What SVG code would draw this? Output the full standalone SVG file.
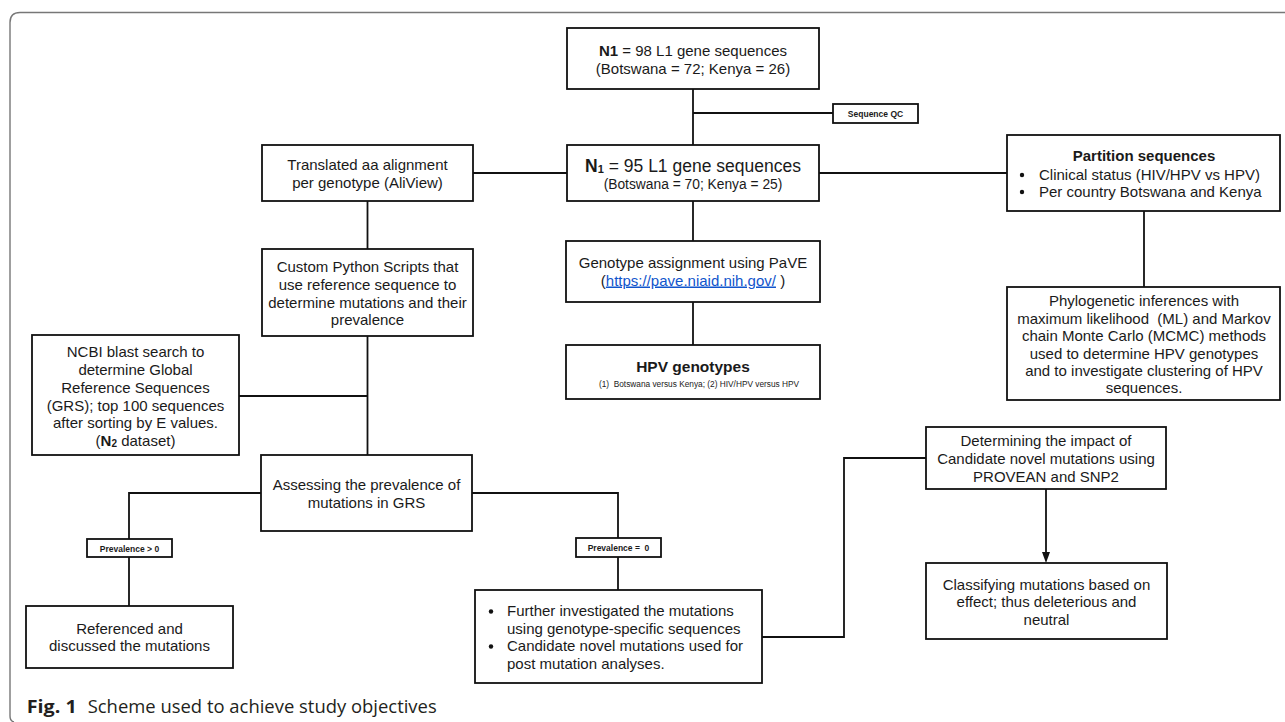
<svg xmlns="http://www.w3.org/2000/svg" width="1285" height="722" viewBox="0 0 1285 722">
<style>
.box{fill:#fff;stroke:#111;stroke-width:1.8}
.conn{fill:none;stroke:#111;stroke-width:1.8}
.t{font-family:"Liberation Sans",Arial,sans-serif;font-size:15px;fill:#1a1a1a;text-anchor:middle}
.l{text-anchor:start}
.b{font-weight:bold}
.tag{font-family:"Liberation Sans",Arial,sans-serif;font-size:8.5px;font-weight:bold;fill:#1a1a1a;text-anchor:middle}
.cap{font-family:"Open Sans","Noto Sans",sans-serif;font-size:18px;fill:#231f20}
.dot{fill:#111}
</style>
<defs>
<marker id="arr" markerWidth="11" markerHeight="8" refX="0" refY="4" orient="auto" markerUnits="userSpaceOnUse" viewBox="0 0 11 8">
<path d="M0,0 L11,4 L0,8 Z" fill="#111"/>
</marker>
</defs>
<rect width="1285" height="722" fill="#fff"/>
<path d="M1285,12.5 H20 Q10,12.5 10,22.5 V716 Q10,721 14,722" fill="none" stroke="#777" stroke-width="1.4"/>

<g id="connectors">
<path class="conn" d="M693,89 V145"/>
<path class="conn" d="M693,113 H833"/>
<path class="conn" d="M473,173 H567"/>
<path class="conn" d="M819,173 H1007"/>
<path class="conn" d="M693,201 V241"/>
<path class="conn" d="M693,302 V345"/>
<path class="conn" d="M1144,211 V287"/>
<path class="conn" d="M367.5,201 V249"/>
<path class="conn" d="M367.5,336 V455"/>
<path class="conn" d="M239,396 H367.5"/>
<path class="conn" d="M261,493 H129 V539"/>
<path class="conn" d="M129,557 V606"/>
<path class="conn" d="M472,493 H618 V538"/>
<path class="conn" d="M618,557 V590"/>
<path class="conn" d="M762,637 H844 V458 H926"/>
<path class="conn" d="M1046,489 V552" marker-end="url(#arr)"/>
</g>

<g id="n1">
<rect class="box" x="567" y="28" width="252" height="61"/>
<text class="t" x="693" y="56"><tspan class="b">N1</tspan> = 98 L1 gene sequences</text>
<text class="t" x="693" y="74">(Botswana = 72; Kenya = 26)</text>
</g>

<g id="seqqc">
<rect class="box" x="833" y="104" width="85" height="19"/>
<text class="tag" x="875.5" y="116.5">Sequence QC</text>
</g>

<g id="n1b">
<rect class="box" x="567" y="145" width="252" height="56"/>
<text class="t" x="693" y="172" style="font-size:17.5px"><tspan class="b">N</tspan><tspan class="b" style="font-size:11px" dy="0.5">1</tspan><tspan dy="-0.5"> = 95 L1 gene sequences</tspan></text>
<text class="t" x="693" y="189" style="font-size:13.8px">(Botswana = 70; Kenya = 25)</text>
</g>

<g id="translated">
<rect class="box" x="262" y="145" width="211" height="56"/>
<text class="t" x="367.5" y="170">Translated aa alignment</text>
<text class="t" x="367.5" y="188">per genotype (AliView)</text>
</g>

<g id="custom">
<rect class="box" x="262" y="249" width="211" height="87"/>
<text class="t" x="367.5" y="272">Custom Python Scripts that</text>
<text class="t" x="367.5" y="290">use reference sequence to</text>
<text class="t" x="367.5" y="307.5">determine mutations and their</text>
<text class="t" x="367.5" y="325">prevalence</text>
</g>

<g id="partition">
<rect class="box" x="1007" y="135" width="273" height="76"/>
<text class="t b" x="1144" y="161">Partition sequences</text>
<circle class="dot" cx="1022" cy="175" r="2.2"/>
<text class="t l" x="1039" y="179.5">Clinical status (HIV/HPV vs HPV)</text>
<circle class="dot" cx="1022" cy="192" r="2.2"/>
<text class="t l" x="1039" y="196.5">Per country Botswana and Kenya</text>
</g>

<g id="phylo">
<rect class="box" x="1007" y="287" width="273" height="113"/>
<text class="t" x="1144" y="306">Phylogenetic inferences with</text>
<text class="t" x="1144" y="323.5" xml:space="preserve">maximum likelihood  (ML) and Markov</text>
<text class="t" x="1144" y="341">chain Monte Carlo (MCMC) methods</text>
<text class="t" x="1144" y="358.5">used to determine HPV genotypes</text>
<text class="t" x="1144" y="376">and to investigate clustering of HPV</text>
<text class="t" x="1144" y="393">sequences.</text>
</g>

<g id="genotype">
<rect class="box" x="566" y="241" width="254" height="61"/>
<text class="t" x="693" y="268">Genotype assignment using PaVE</text>
<text class="t" x="693" y="285.5">(<tspan fill="#1155cc" text-decoration="underline">https://pave.niaid.nih.gov/</tspan> )</text>
</g>

<g id="hpv">
<rect class="box" x="566" y="345" width="254" height="54"/>
<text class="t b" x="693" y="371.5" style="font-size:15.5px">HPV genotypes</text>
<text class="t" x="699" y="386.5" style="font-size:8.3px" xml:space="preserve">(1)  Botswana versus Kenya; (2) HIV/HPV versus HPV</text>
</g>

<g id="ncbi">
<rect class="box" x="32" y="335" width="207" height="120"/>
<text class="t" x="135.5" y="357">NCBI blast search to</text>
<text class="t" x="135.5" y="375">determine Global</text>
<text class="t" x="135.5" y="392.5">Reference Sequences</text>
<text class="t" x="135.5" y="410.5">(GRS); top 100 sequences</text>
<text class="t" x="135.5" y="428">after sorting by E values.</text>
<text class="t" x="135.5" y="446">(<tspan class="b">N</tspan><tspan class="b" style="font-size:10px" dy="0.5">2</tspan><tspan dy="-0.5"> dataset)</tspan></text>
</g>

<g id="assessing">
<rect class="box" x="261" y="455" width="211" height="76"/>
<text class="t" x="366.5" y="490">Assessing the prevalence of</text>
<text class="t" x="366.5" y="508">mutations in GRS</text>
</g>

<g id="prev-gt0">
<rect class="box" x="87" y="539" width="85" height="18"/>
<text class="tag" x="129.5" y="551.5">Prevalence &gt; 0</text>
</g>

<g id="referenced">
<rect class="box" x="26" y="606" width="207" height="62"/>
<text class="t" x="129.5" y="634">Referenced and</text>
<text class="t" x="129.5" y="651">discussed the mutations</text>
</g>

<g id="prev-eq0">
<rect class="box" x="576" y="538" width="85" height="19"/>
<text class="tag" x="618.5" y="551" xml:space="preserve">Prevalence =  0</text>
</g>

<g id="further">
<rect class="box" x="475" y="590" width="287" height="93"/>
<circle class="dot" cx="491" cy="611.5" r="2.2"/>
<text class="t l" x="507" y="616">Further investigated the mutations</text>
<text class="t l" x="507" y="633.5">using genotype-specific sequences</text>
<circle class="dot" cx="491" cy="646.5" r="2.2"/>
<text class="t l" x="507" y="651">Candidate novel mutations used for</text>
<text class="t l" x="507" y="668.5">post mutation analyses.</text>
</g>

<g id="determining">
<rect class="box" x="926" y="427" width="240" height="62"/>
<text class="t" x="1046" y="446">Determining the impact of</text>
<text class="t" x="1046" y="464">Candidate novel mutations using</text>
<text class="t" x="1046" y="481.5">PROVEAN and SNP2</text>
</g>

<g id="classifying">
<rect class="box" x="926" y="563" width="241" height="76"/>
<text class="t" x="1046.5" y="590">Classifying mutations based on</text>
<text class="t" x="1046.5" y="607">effect; thus deleterious and</text>
<text class="t" x="1046.5" y="625">neutral</text>
</g>

<g id="caption">
<text class="cap" x="26.7" y="712.5" style="font-weight:bold" textLength="50" lengthAdjust="spacingAndGlyphs">Fig. 1</text>
<text class="cap" x="87.7" y="712.5" textLength="349" lengthAdjust="spacingAndGlyphs">Scheme used to achieve study objectives</text>
</g>
</svg>
